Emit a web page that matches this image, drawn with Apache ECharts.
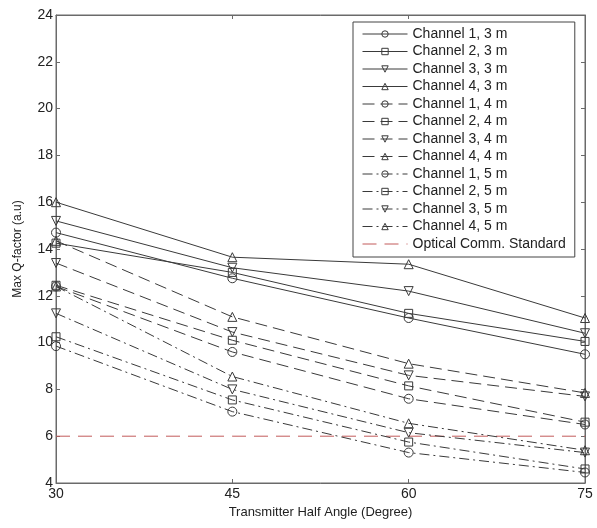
<!DOCTYPE html>
<html>

<head>
    <meta charset="UTF-8">
    <script src="https://cdn.jsdelivr.net/npm/echarts@6.0.0/dist/echarts.min.js"></script>
</head>

<body style="margin:0;background:#fff;">
    <div id="main" style="width: 597px; height: 528px;"></div>
    <script>
        // x values (Transmitter Half Angle, degree)
        var angles = [30, 45, 60, 75];
        var yTicks = [4, 6, 8, 10, 12, 14, 16, 18, 20, 22, 24];

        // Max Q-factor
        var ch1_3m = [14.7, 12.75, 11.05, 9.5];
        var ch2_3m = [14.25, 13.0, 11.25, 10.05];
        var ch3_3m = [15.2, 13.2, 12.2, 10.4];
        var ch4_3m = [16.0, 13.65, 13.35, 11.05];
        var ch1_4m = [12.4, 9.6, 7.6, 6.5];
        var ch2_4m = [12.45, 10.1, 8.15, 6.6];
        var ch3_4m = [13.4, 10.45, 8.6, 7.7];
        var ch4_4m = [14.35, 11.1, 9.1, 7.85];
        var ch1_5m = [9.85, 7.05, 5.3, 4.45];
        var ch2_5m = [10.25, 7.55, 5.75, 4.6];
        var ch3_5m = [11.25, 8.0, 6.15, 5.3];
        var ch4_5m = [12.4, 8.55, 6.55, 5.4];
        var standard = [6, 6, 6, 6];

        var names = [
            'Channel 1, 3 m', 'Channel 2, 3 m', 'Channel 3, 3 m', 'Channel 4, 3 m',
            'Channel 1, 4 m', 'Channel 2, 4 m', 'Channel 3, 4 m', 'Channel 4, 4 m',
            'Channel 1, 5 m', 'Channel 2, 5 m', 'Channel 3, 5 m', 'Channel 4, 5 m'
        ];
        var stdName = 'Optical Comm. Standard';
        var values = [ch1_3m, ch2_3m, ch3_3m, ch4_3m, ch1_4m, ch2_4m, ch3_4m, ch4_4m,
            ch1_5m, ch2_5m, ch3_5m, ch4_5m];

        var font = 'Liberation Sans, Arial, sans-serif';
        var lineCol = '#3a3a3a';
        var axisCol = '#6a6a6a';
        var markers = ['circle', 'rect', 'path://M0,0 L10,0 L5,9 Z', 'path://M5,0 L10,9 L0,9 Z'];
        var dashes = ['solid', [12, 6], [10, 4, 2, 4]];

        function pairs(arr) {
            return angles.map(function (a, i) { return [a, arr[i]]; });
        }

        var series = values.map(function (v, i) {
            return {
                name: names[i],
                type: 'line',
                data: pairs(v),
                symbol: markers[i % 4],
                symbolSize: i % 4 == 1 ? 8 : 9,
                showSymbol: true,
                lineStyle: { color: lineCol, width: 1, type: dashes[Math.floor(i / 4)] },
                itemStyle: { color: 'rgba(255,255,255,0)', borderColor: lineCol, borderWidth: 1 },
                emphasis: { disabled: true },
                z: 3
            };
        });
        series.push({
            name: stdName,
            type: 'line',
            data: pairs(standard),
            symbol: 'none',
            lineStyle: { color: '#c25a5a', width: 1, type: [14, 8] },
            itemStyle: { color: '#c25a5a' },
            emphasis: { disabled: true },
            z: 2
        });

        var legendData = names.map(function (n) { return { name: n }; });
        legendData.push({
            name: stdName,
            itemStyle: { color: 'rgba(255,255,255,0)', borderWidth: 0, opacity: 0 }
        });

        var myChart = echarts.init(document.getElementById('main'));
        var option = {
            backgroundColor: '#fff',
            animation: false,
            textStyle: { fontFamily: font },
            grid: {
                left: 56, right: 12, top: 15, bottom: 45,
                containLabel: false, outerBoundsMode: 'none',
                show: true, borderColor: axisCol, borderWidth: 1
            },
            legend: {
                orient: 'vertical',
                left: 353,
                top: 22,
                padding: [5, 9, 6, 9],
                itemWidth: 45,
                itemHeight: 8,
                itemGap: 3.5,
                backgroundColor: '#fff',
                borderColor: '#444',
                borderWidth: 1,
                itemStyle: { color: 'rgba(255,255,255,0)', borderWidth: 1 },
                lineStyle: { width: 1 },
                textStyle: { fontFamily: font, fontSize: 14, lineHeight: 14, color: '#222' },
                data: legendData
            },
            xAxis: [{
                type: 'value',
                min: 30, max: 75, interval: 15,
                name: 'Transmitter Half Angle (Degree)',
                nameLocation: 'middle',
                nameGap: 20,
                nameTextStyle: { fontFamily: font, fontSize: 13, color: '#222' },
                axisLine: { show: true, lineStyle: { color: axisCol } },
                axisTick: { show: true, inside: true, length: 4, lineStyle: { color: axisCol } },
                axisLabel: { fontFamily: font, fontSize: 14, color: '#222', margin: 4 },
                splitLine: { show: false }
            }, {
                type: 'value', position: 'top',
                min: 30, max: 75, interval: 15,
                axisLine: { show: true, lineStyle: { color: axisCol } },
                axisTick: { show: true, inside: true, length: 4, lineStyle: { color: axisCol } },
                axisLabel: { show: false },
                splitLine: { show: false }
            }],
            yAxis: [{
                type: 'value',
                min: yTicks[0], max: yTicks[yTicks.length - 1], interval: 2,
                name: 'Max Q-factor (a.u)',
                nameLocation: 'middle',
                nameGap: 32,
                nameTextStyle: { fontFamily: font, fontSize: 12, color: '#222' },
                axisLine: { show: true, lineStyle: { color: axisCol } },
                axisTick: { show: true, inside: true, length: 4, lineStyle: { color: axisCol } },
                axisLabel: { fontFamily: font, fontSize: 14, color: '#222', margin: 3 },
                splitLine: { show: false }
            }, {
                type: 'value', position: 'right',
                min: yTicks[0], max: yTicks[yTicks.length - 1], interval: 2,
                axisLine: { show: true, lineStyle: { color: axisCol } },
                axisTick: { show: true, inside: true, length: 4, lineStyle: { color: axisCol } },
                axisLabel: { show: false },
                splitLine: { show: false }
            }],
            series: series
        };
        myChart.setOption(option);
    </script>
</body>

</html>
